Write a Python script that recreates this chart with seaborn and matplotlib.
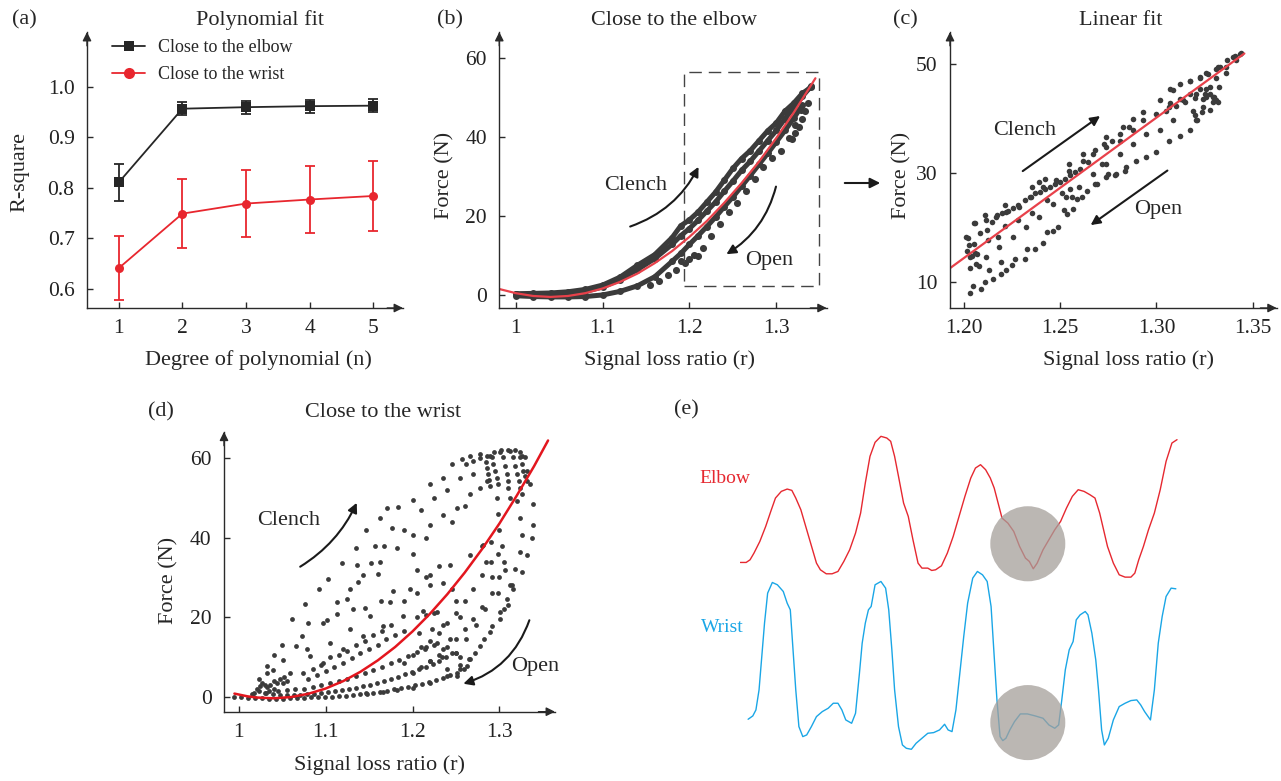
import numpy as np
import pandas as pd
import seaborn as sns
import matplotlib.pyplot as plt
from matplotlib.patches import Rectangle, Ellipse
from matplotlib.lines import Line2D

sns.set_style('ticks')
plt.rcParams['font.family'] = ['Liberation Serif', 'DejaVu Serif']

# ---------------- data ----------------
# (a) polynomial fit
degree = [1, 2, 3, 4, 5]
elbow_r2 = [0.811, 0.957, 0.960, 0.962, 0.963]
elbow_err = [0.036, 0.013, 0.013, 0.013, 0.013]
wrist_r2 = [0.641, 0.749, 0.769, 0.777, 0.784]
wrist_err = [0.063, 0.069, 0.066, 0.067, 0.069]

# (b) close to the elbow: dense bands
b_band_r = [1.00, 1.02, 1.04, 1.06, 1.08, 1.10, 1.12, 1.14, 1.16, 1.18, 1.19, 1.20, 1.21,
            1.22, 1.23, 1.24, 1.25, 1.26, 1.27, 1.28, 1.29, 1.30, 1.31, 1.32, 1.33, 1.34]
b_up1_f = [0.3, 0.4, 0.5, 0.8, 1.4, 2.5, 4.5, 7.5, 10.2, 14.5, 17.5, 19.0, 21.0,
           23.5, 26.0, 29.0, 32.0, 34.5, 36.5, 39.0, 41.5, 43.5, 46.5, 48.5, 51.0, 52.5]
b_up2_f = [0.2, 0.1, 0.0, 0.3, 0.9, 2.0, 3.9, 6.4, 9.2, 12.8, 15.0, 16.8, 18.9,
           21.2, 23.5, 26.2, 28.8, 31.5, 33.8, 36.4, 39.0, 41.6, 44.6, 47.3, 50.2, 52.8]
b_low_r = b_band_r[:-1]
b_low_f = [-0.2, -0.4, -0.5, -0.5, -0.4, 0.0, 0.9, 2.3, 4.6, 8.5, 10.5, 12.8, 15.0,
           17.3, 19.7, 22.3, 24.8, 27.5, 30.2, 33.0, 35.8, 38.7, 41.6, 44.7, 48.0]
b_open_r = [1.155, 1.165, 1.175, 1.185, 1.195, 1.205, 1.215, 1.225, 1.235, 1.245, 1.255,
            1.265, 1.275, 1.285, 1.295, 1.305, 1.315, 1.322, 1.328, 1.318, 1.322, 1.326,
            1.330, 1.333, 1.336, 1.190, 1.200, 1.210]
b_open_f = [2.5, 3.5, 5.0, 6.3, 8.0, 10.0, 12.0, 14.8, 18.0, 21.0, 23.2,
            26.2, 29.2, 32.4, 34.6, 36.3, 39.6, 43.0, 46.8, 39.5, 41.0, 42.5,
            44.5, 46.5, 48.5, 8.5, 9.2, 9.8]
b_fit_r = [0.981, 1.0, 1.02, 1.04, 1.06, 1.08, 1.10, 1.12, 1.14, 1.16, 1.18, 1.20,
           1.22, 1.24, 1.26, 1.28, 1.30, 1.32, 1.345]
b_fit_f = [1.5, 0.45, -0.26, -0.5, -0.26, 0.45, 1.64, 3.3, 5.4, 8.05, 11.1, 14.7,
           18.7, 23.3, 28.3, 33.7, 39.7, 46.1, 54.8]

# (c) linear fit (zoomed window)
c_r = [1.2031, 1.2048, 1.209, 1.211, 1.2153, 1.2192, 1.222, 1.2248, 1.2265, 1.2317, 1.2325,
       1.237, 1.241, 1.2429, 1.2464, 1.249, 1.2533, 1.2568, 1.2585, 1.2637, 1.269, 1.274,
       1.279, 1.2842, 1.2894, 1.2946, 1.2998, 1.3067, 1.312, 1.3172, 1.3206, 1.3241, 1.3293,
       1.3327, 1.3362, 1.3414, 1.344,
       1.2062, 1.2114, 1.2184, 1.2253, 1.2322, 1.2392, 1.2461, 1.2530, 1.2600, 1.2669, 1.2738,
       1.2808, 1.2877, 1.2946, 1.3016, 1.3085, 1.3189, 1.3258,
       1.201, 1.2054, 1.2114, 1.2166, 1.2218, 1.2288, 1.2348, 1.2409, 1.2478, 1.2547, 1.2617,
       1.2669, 1.2738, 1.2808, 1.2877, 1.293, 1.2998, 1.3067, 1.3137, 1.3206, 1.3258, 1.331,
       1.336, 1.341,
       1.2392, 1.2547, 1.2738, 1.2825, 1.2877, 1.293, 1.3016, 1.3085, 1.3172, 1.3224, 1.3258,
       1.331,
       1.2015, 1.2032, 1.205, 1.2066, 1.2025, 1.208, 1.213, 1.219,
       1.305, 1.31, 1.315, 1.32, 1.325, 1.328, 1.33, 1.331, 1.332,
       1.2022, 1.2057, 1.2083, 1.2118, 1.2144, 1.2170, 1.2196, 1.2231, 1.2257, 1.2283, 1.2318,
       1.2344, 1.2370, 1.2395, 1.2421, 1.2447, 1.2473, 1.2499, 1.2525, 1.2551, 1.2577, 1.2603,
       1.2352, 1.2421, 1.2213, 1.2109, 1.2127, 1.2179, 1.2057, 1.2040, 1.2031, 1.2213, 1.2283,
       1.2352, 1.2430, 1.2508, 1.2551, 1.2620, 1.2681, 1.2725, 1.2768, 1.2811, 1.2855, 1.2646,
       1.2716, 1.2750, 1.2837, 1.2785, 1.2681, 1.2611, 1.2560, 1.2517,
       1.3070, 1.3123, 1.3175, 1.3227, 1.3279, 1.3244, 1.3296, 1.3279, 1.3235, 1.3209, 1.3201,
       1.3365, 1.3400, 1.3434, 1.3330,
       1.3070, 1.3123, 1.3175, 1.3227, 1.3270, 1.3322]
c_f = [8.0, 9.3, 8.7, 10.1, 10.7, 11.5, 12.2, 13.2, 14.3, 14.3, 16.1,
       16.1, 17.2, 19.2, 19.5, 20.1, 22.6, 23.5, 25.3, 26.8, 28.0, 29.3,
       29.9, 31.1, 32.3, 33.0, 33.9, 36.0, 36.9, 37.9, 39.7, 42.2, 44.0,
       45.9, 48.3, 50.8, 52.0,
       13.4, 14.6, 16.5, 18.3, 20.1, 22.0, 24.4, 25.6, 27.5, 29.9, 31.7,
       33.6, 35.4, 37.2, 37.9, 39.7, 41.5, 44.0,
       18.3, 20.8, 21.4, 22.0, 22.9, 23.8, 25.6, 27.5, 28.7, 30.5, 32.3,
       33.6, 34.8, 36.0, 37.9, 39.7, 40.9, 42.2, 43.4, 44.6, 45.5, 47.5,
       49.5, 51.5,
       28.4, 31.7, 36.6, 38.5, 40.0, 41.2, 43.4, 45.2, 47.0, 47.5, 48.3,
       49.2,
       15.8, 14.6, 17.0, 15.2, 16.8, 13.0, 12.3, 13.8,
       41.5, 42.3, 43.0, 43.8, 44.5, 44.5, 44.0, 43.5, 43.0,
       18.1, 20.8, 19.0, 19.6, 21.1, 22.4, 22.7, 23.0, 23.6, 24.2, 25.1,
       25.7, 26.3, 26.6, 27.2, 27.5, 28.1, 28.4, 29.0, 29.6, 30.2, 30.8,
       27.5, 29.0, 24.2, 22.4, 17.8, 18.4, 15.4, 14.8, 12.7, 20.3, 21.5,
       22.7, 25.1, 26.3, 27.2, 33.6, 34.2, 35.4, 36.0, 37.2, 38.5, 32.1,
       31.7, 29.9, 30.5, 29.6, 28.1, 25.7, 25.7, 23.3,
       42.8, 43.7, 44.6, 45.5, 45.9, 43.7, 43.1, 41.6, 41.3, 39.7, 40.6,
       50.7, 51.3, 51.9, 49.5,
       45.5, 46.4, 47.0, 47.6, 48.2, 49.5]
c_fit_r = [1.1927, 1.3457]
c_fit_f = [12.6, 51.96]

# (d) close to the wrist
d_outer_r = [1.0237, 1.0322, 1.0406, 1.0495, 1.0618, 1.0763, 1.0924, 1.1032, 1.1185, 1.1350,
             1.1461, 1.1626, 1.1711, 1.1837, 1.2010, 1.2202, 1.2356, 1.2452, 1.2567, 1.2663,
             1.2778, 1.2893, 1.3008, 1.3123, 1.3238, 1.3296, 1.3315, 1.3353, 1.3392, 1.3392,
             1.3372, 1.3315, 1.3257, 1.3161, 1.3104, 1.3008, 1.2893, 1.2778, 1.2663, 1.2548,
             1.2394, 1.2202, 1.2010, 1.1818, 1.1665, 1.1473,
             1.262, 1.270, 1.278, 1.286, 1.294, 1.302, 1.310, 1.318, 1.326]
d_outer_f = [4.6, 7.9, 10.5, 13.2, 19.6, 23.4, 27.0, 29.6, 33.7, 37.5,
             41.8, 44.9, 47.4, 47.6, 49.5, 53.3, 55.0, 58.4, 59.6, 60.5,
             60.9, 60.5, 61.3, 61.6, 61.3, 60.1, 56.7, 53.3, 48.3, 43.2,
             39.8, 35.6, 31.4, 27.2, 23.0, 19.6, 16.3, 12.9, 9.5, 7.0,
             5.3, 3.6, 2.4, 1.9, 1.4, 0.8,
             58.5, 59.2, 59.8, 60.3, 61.5, 62.0, 62.0, 61.8, 60.5]
d_curtain_r = [1.2913, 1.2930, 1.2951, 1.2970, 1.2989, 1.2970,
               1.3046, 1.3065, 1.3085, 1.3095, 1.3104, 1.3123,
               1.3161, 1.3180, 1.3200, 1.3220, 1.3238, 1.3257,
               1.3238, 1.3258, 1.3277, 1.3296, 1.3315,
               1.2850, 1.2860, 1.2870, 1.2880, 1.2890]
d_curtain_f = [60.1, 58.4, 56.7, 55.0, 53.3, 49.9,
               60.1, 58.0, 55.9, 54.2, 52.5, 49.9,
               60.1, 58.0, 55.9, 54.2, 52.5, 50.8,
               60.1, 58.4, 56.7, 55.4, 54.1,
               59.0, 57.5, 56.0, 54.5, 53.0]
d_inner_r = [1.3200, 1.3238, 1.3257, 1.3238, 1.3180, 1.3142, 1.3085, 1.3008, 1.2913, 1.2817,
             1.2721, 1.2625, 1.2510,
             1.298, 1.300, 1.303, 1.305, 1.300, 1.292, 1.283, 1.273, 1.262, 1.250]
d_inner_f = [49.1, 45.0, 40.6, 36.4, 32.2, 28.0, 24.6, 21.3, 17.9, 14.6,
             11.2, 7.8, 5.3,
             46.0, 42.0, 38.0, 34.0, 30.0, 26.0, 22.0, 18.0, 14.5, 11.0]
d_mid_r = [1.0783, 1.0974, 1.1127, 1.1281, 1.1434, 1.1626, 1.1818, 1.2010, 1.2202, 1.2356,
           1.2509, 1.2663, 1.2778, 1.2854,
           1.0590, 1.0820, 1.1050, 1.1281, 1.1511, 1.1741, 1.1971, 1.2202, 1.2432, 1.2663,
           1.2816,
           1.0513, 1.0743, 1.0974, 1.1204, 1.1434, 1.1665, 1.1895, 1.2125, 1.2279,
           1.215, 1.222, 1.228, 1.234, 1.240, 1.225, 1.235, 1.243, 1.250, 1.255,
           1.205, 1.208, 1.214, 1.220,
           1.280, 1.285, 1.292, 1.298, 1.305, 1.290, 1.298, 1.306, 1.312,
           1.190, 1.205, 1.220, 1.235, 1.245, 1.250, 1.255]
d_mid_f = [12.0, 18.7, 23.8, 27.2, 30.5, 33.9, 37.3, 40.7, 43.2, 45.7,
           47.4, 50.8, 52.5, 54.2,
           6.1, 10.3, 13.7, 17.0, 20.4, 23.8, 27.2, 30.5, 33.1, 35.6,
           38.1,
           3.5, 6.1, 8.6, 12.0, 15.4, 17.9, 20.4, 21.7, 21.3,
           20.5, 17.0, 13.5, 10.0, 7.0, 21.0, 18.0, 14.5, 11.0, 8.0,
           20.0, 16.0, 12.0, 9.0,
           38.0, 34.0, 30.0, 26.0, 22.0, 39.0, 36.0, 32.0, 28.0,
           24.0, 26.0, 28.0, 28.5, 27.0, 24.0, 20.0]
d_sparse_r = [1.0322, 1.0399, 1.0514, 1.0660, 1.0725, 1.0802, 1.102, 1.1127, 1.1243, 1.1311,
              1.1357, 1.1369, 1.1453, 1.1519, 1.1569, 1.1604, 1.1642, 1.1676, 1.1761, 1.1776,
              1.190, 1.200, 1.210, 1.215, 1.225, 1.230, 1.240, 1.245, 1.255, 1.260, 1.270,
              1.215, 1.205]
d_sparse_f = [6.0, 6.9, 9.4, 12.8, 15.4, 18.7, 19.3, 20.8, 24.6, 22.0,
              33.1, 28.8, 22.4, 33.7, 37.9, 30.9, 24.1, 37.9, 42.4, 26.7,
              42.0, 36.0, 47.0, 40.0, 50.0, 33.0, 52.0, 44.0, 55.0, 48.0, 56.0,
              30.0, 32.0]
d_base_r = [0.995, 1.003, 1.011, 1.019, 1.027, 1.035, 1.043, 1.051, 1.059, 1.067, 1.075,
            1.083, 1.091, 1.099, 1.107, 1.115, 1.123, 1.131, 1.139, 1.147, 1.155, 1.163,
            1.171, 1.179, 1.187, 1.195, 1.203, 1.211, 1.219, 1.227, 1.235, 1.243, 1.251,
            1.259,
            1.015, 1.023, 1.031, 1.039, 1.047, 1.055, 1.063, 1.071, 1.079, 1.087, 1.095,
            1.103, 1.111, 1.119, 1.127, 1.135, 1.143, 1.151, 1.159, 1.167, 1.175, 1.183,
            1.191, 1.199, 1.207, 1.215, 1.223, 1.231, 1.239,
            1.045, 1.055, 1.065, 1.075, 1.085, 1.095, 1.105, 1.115, 1.125, 1.135, 1.145,
            1.155, 1.165, 1.175, 1.185, 1.195, 1.205, 1.215, 1.225, 1.235, 1.245, 1.255,
            1.265,
            1.018, 1.021, 1.024, 1.027, 1.030, 1.033, 1.036, 1.040, 1.044, 1.048, 1.052,
            1.056, 1.030, 1.035, 1.040,
            1.08, 1.09, 1.10, 1.11, 1.12, 1.13, 1.14, 1.15, 1.16, 1.17, 1.18, 1.19,
            1.085, 1.095, 1.105, 1.115, 1.125, 1.135, 1.145, 1.155, 1.165, 1.175,
            1.20, 1.21, 1.22, 1.23, 1.24, 1.25, 1.26, 1.27, 1.28,
            1.19, 1.20, 1.21, 1.22, 1.23, 1.24, 1.25, 1.26, 1.27, 1.28, 1.29]
d_base_f = [0.2, 0.0, -0.1, -0.2, -0.2, -0.3, -0.3, -0.3, -0.2, -0.2, -0.1,
            0.0, 0.0, 0.1, 0.2, 0.3, 0.4, 0.6, 0.8, 1.0, 1.2, 1.4,
            1.7, 2.0, 2.3, 2.6, 3.0, 3.4, 3.8, 4.3, 4.9, 5.5, 6.2,
            7.0,
            0.8, 1.6, 1.2, 0.9, 0.7, 0.6, 0.6, 0.7, 0.8, 0.9, 1.1,
            1.3, 1.5, 1.8, 2.1, 2.4, 2.8, 3.2, 3.6, 4.1, 4.6, 5.2,
            5.8, 6.4, 7.0, 7.7, 8.4, 9.2, 10.0,
            1.5, 1.8, 2.2, 2.0, 2.6, 3.0, 3.5, 4.0, 4.7, 5.4, 6.0,
            6.8, 7.6, 8.5, 9.4, 10.4, 11.4, 12.5, 13.0, 12.0, 11.0, 10.2,
            9.5,
            1.0, 2.0, 2.8, 3.5, 3.0, 2.5, 3.2, 4.0, 3.5, 4.5, 5.0,
            4.2, 1.0, 1.5, 2.0,
            4.5, 5.5, 6.5, 7.5, 8.5, 9.8, 11.0, 12.0, 13.2, 14.5, 15.5, 16.5,
            7.0, 8.0, 10.0, 10.5, 11.5, 13.0, 14.0, 15.5, 16.5, 18.0,
            6.0, 7.5, 9.0, 10.5, 12.5, 14.5, 17.0, 19.5, 22.5,
            8.5, 10.5, 12.5, 14.0, 16.0, 18.5, 21.0, 24.0, 27.0, 30.5, 34.0]
d_fit_r = [0.995, 1.01, 1.02, 1.04, 1.06, 1.08, 1.10, 1.12, 1.14, 1.16, 1.18, 1.20,
           1.22, 1.24, 1.26, 1.28, 1.30, 1.32, 1.34, 1.356]
d_fit_f = [0.93, 0.25, -0.04, -0.25, 0.06, 0.88, 2.2, 4.04, 6.39, 9.25, 12.6, 16.5,
           20.9, 25.8, 31.2, 37.1, 43.5, 50.5, 57.9, 64.3]

# (e) raw signals (sample index, arbitrary amplitude)
elbow_t = [0, 15, 25, 35, 50, 65, 78, 90, 105, 120, 132, 142, 155, 165, 175, 185, 195, 205,
           220, 235, 250, 265, 280, 295, 308, 320, 332, 345, 360, 375, 385, 395, 405, 418,
           430, 442, 455, 465, 480, 490, 500, 515, 530, 545, 560, 575, 590, 602, 615, 628,
           640, 650, 660, 670, 685, 700, 715, 730, 740, 750, 760, 775, 790, 805, 820, 835,
           850, 865, 880, 895, 908, 920, 930, 940, 955, 970, 985, 1000, 1010, 1020, 1032,
           1045, 1060, 1075, 1090, 1105, 1118]
elbow_v = [562, 562, 570, 590, 625, 670, 715, 755, 775, 782, 778, 755, 720, 680, 640, 600,
           560, 540, 528, 528, 535, 565, 600, 650, 710, 800, 880, 922, 940, 935, 925, 880,
           820, 740, 700, 630, 560, 545, 545, 538, 540, 552, 590, 640, 700, 760, 815, 845,
           855, 840, 815, 785, 740, 695, 680, 655, 610, 575, 565, 543, 560, 600, 630, 660,
           685, 725, 760, 780, 775, 765, 755, 710, 660, 610, 560, 525, 518, 518, 530, 570,
           610, 660, 710, 780, 865, 920, 930]
wrist_t = [20, 32, 40, 48, 55, 62, 70, 82, 95, 110, 120, 128, 135, 142, 150, 160, 170, 182,
           195, 210, 225, 238, 250, 260, 270, 285, 295, 305, 312, 320, 328, 335, 345, 360,
           372, 380, 388, 395, 405, 415, 425, 438, 450, 465, 480, 495, 510, 523, 532, 542,
           552, 562, 572, 582, 595, 607, 620, 632, 642, 650, 657, 665, 672, 680, 690, 702,
           717, 735, 755, 775, 790, 805, 815, 823, 832, 842, 852, 860, 870, 883, 890, 900,
           910, 917, 925, 932, 942, 955, 970, 985, 1000, 1015, 1025, 1035, 1050, 1060,
           1070, 1080, 1090, 1103, 1115]
wrist_v = [92, 102, 120, 180, 280, 380, 470, 502, 495, 475, 440, 420, 300, 180, 70, 40, 45,
           70, 100, 115, 125, 140, 140, 120, 90, 80, 110, 230, 320, 380, 420, 430, 495, 505,
           485, 420, 300, 180, 70, 15, 5, 2, 20, 35, 50, 52, 60, 77, 60, 55, 120, 230, 340,
           440, 515, 535, 525, 505, 430, 280, 150, 40, 28, 35, 60, 85, 108, 108, 102, 95, 75,
           65, 75, 150, 240, 300, 325, 390, 405, 415, 405, 350, 270, 180, 60, 15, 35, 90,
           130, 140, 148, 150, 135, 115, 90, 180, 320, 400, 460, 485, 483]
circle_t = 736
circle_v = [618, 82]

# ---------------- figure ----------------
W, H = 1281, 781
fig = plt.figure(figsize=(W / 100, H / 100), dpi=100)

GRAY = '#3b3b3b'
AXC = '#2a2a2a'
RED = '#e8262e'
FIT = '#e8414a'


def box(l, t, r, b):
    return [l / W, 1 - b / H, (r - l) / W, (b - t) / H]


def style(ax):
    sns.despine(ax=ax)
    for s in ['left', 'bottom']:
        ax.spines[s].set_color(AXC)
        ax.spines[s].set_linewidth(1.0)
    ax.tick_params(direction='in', length=4, width=1, colors=AXC,
                   labelcolor='#222222', labelsize=15.5)
    ax.tick_params(axis='y', pad=9)
    ax.tick_params(axis='x', pad=8)
    ap = dict(arrowstyle='-|>', color=AXC, lw=1, mutation_scale=13,
              shrinkA=0, shrinkB=0)
    ax.annotate('', xy=(1.0, 0), xytext=(0.95, 0), xycoords='axes fraction', arrowprops=ap)
    ax.annotate('', xy=(0, 1.0), xytext=(0, 0.95), xycoords='axes fraction', arrowprops=ap)


def labels(ax, xl, yl, xy_x, xy_y, title, tpos):
    ax.set_xlabel(xl, fontsize=16)
    ax.set_ylabel(yl, fontsize=16)
    ax.xaxis.set_label_coords(*xy_x)
    ax.yaxis.set_label_coords(*xy_y)
    ax.xaxis.label.set_va('center')
    ax.yaxis.label.set_va('center')
    ax.set_title(title, fontsize=16, x=tpos[0], y=tpos[1], va='center', pad=0)


# (a)
ax = fig.add_axes(box(87, 32, 403, 308))
df_a = pd.DataFrame({'n': degree * 2, 'r2': elbow_r2 + wrist_r2,
                     'g': ['Close to the elbow'] * 5 + ['Close to the wrist'] * 5})
sns.lineplot(data=df_a, x='n', y='r2', hue='g', style='g', markers=['s', 'o'],
             dashes=False, palette=['#262626', RED], markersize=6.5, lw=1.3,
             markeredgewidth=0, legend=False, ax=ax)
ax.errorbar(degree, elbow_r2, yerr=elbow_err, fmt='none', ecolor='#262626',
            elinewidth=1.3, capsize=3.5, capthick=1.3)
ax.errorbar(degree, wrist_r2, yerr=wrist_err, fmt='none', ecolor=RED,
            elinewidth=1.3, capsize=3.5, capthick=1.3)
ax.set_xlim(0.5, 5.47)
ax.set_ylim(0.562, 1.109)
ax.set_xticks(degree)
ax.set_yticks([0.6, 0.7, 0.8, 0.9, 1.0])
ax.set_yticklabels(['0.6', '0.7', '0.8', '0.9', '1.0'])
style(ax)
labels(ax, 'Degree of polynomial (n)', 'R-square', (0.541, -0.188), (-0.212, 0.493),
       'Polynomial fit', (0.547, 1.043))
handles = [Line2D([], [], color='#262626', marker='s', ms=7, lw=1.3, mew=0),
           Line2D([], [], color=RED, marker='o', ms=8, lw=1.3, mew=0)]
ax.legend(handles, ['Close to the elbow', 'Close to the wrist'], loc='upper left',
          bbox_to_anchor=(0.08, 0.975), frameon=False, fontsize=13, handlelength=1.8,
          handletextpad=0.75, labelspacing=0.55, borderpad=0, borderaxespad=0)

# (b)
ax = fig.add_axes(box(499.3, 32, 826.7, 308))
for f in [b_up1_f, b_up2_f]:
    sns.lineplot(x=b_band_r, y=f, sort=False, estimator=None, color=GRAY, lw=3.6,
                 marker='o', markersize=5, markeredgewidth=0, ax=ax)
sns.lineplot(x=b_low_r, y=b_low_f, sort=False, estimator=None, color=GRAY, lw=3.6,
             marker='o', markersize=5, markeredgewidth=0, ax=ax)
sns.scatterplot(x=b_open_r, y=b_open_f, color=GRAY, s=26, linewidth=0, ax=ax)
sns.lineplot(x=b_fit_r, y=b_fit_f, sort=False, estimator=None, color=FIT, lw=1.6, ax=ax)
ax.add_patch(Rectangle((1.194, 2.35), 1.3495 - 1.194, 56.5 - 2.35, fill=False,
                       ec='#444444', lw=1.0, ls=(0, (9, 5))))
ax.set_xlim(0.981, 1.358)
ax.set_ylim(-3.3, 66.5)
ax.set_xticks([1.0, 1.1, 1.2, 1.3])
ax.set_xticklabels(['1', '1.1', '1.2', '1.3'])
ax.set_yticks([0, 20, 40, 60])
style(ax)
labels(ax, 'Signal loss ratio (r)', 'Force (N)', (0.521, -0.188), (-0.166, 0.482),
       'Close to the elbow', (0.534, 1.043))
arr = dict(arrowstyle='-|>', color='#1a1a1a', lw=1.5, mutation_scale=14,
           shrinkA=0, shrinkB=0)
ax.text(1.1375, 27.8, 'Clench', fontsize=16, ha='center', va='center')
ax.annotate('', xy=(1.2104, 32.4), xytext=(1.1317, 17.3),
            arrowprops=dict(arr, connectionstyle='arc3,rad=0.2'))
ax.text(1.292, 8.8, 'Open', fontsize=16, ha='center', va='center')
ax.annotate('', xy=(1.2425, 10.3), xytext=(1.2996, 27.4),
            arrowprops=dict(arr, connectionstyle='arc3,rad=-0.2'))

# (c)
ax = fig.add_axes(box(950, 32, 1276.7, 308))
sns.scatterplot(x=c_r, y=c_f, color=GRAY, s=16, linewidth=0, ax=ax)
sns.lineplot(x=c_fit_r, y=c_fit_f, color=FIT, lw=1.6, ax=ax)
ax.set_xlim(1.1927, 1.3625)
ax.set_ylim(5.3, 55.9)
ax.set_xticks([1.20, 1.25, 1.30, 1.35])
ax.set_xticklabels(['1.20', '1.25', '1.30', '1.35'])
ax.set_yticks([10, 30, 50])
style(ax)
labels(ax, 'Signal loss ratio (r)', 'Force (N)', (0.545, -0.188), (-0.148, 0.482),
       'Linear fit', (0.523, 1.043))
ax.text(1.2317, 37.9, 'Clench', fontsize=16, ha='center', va='center')
ax.annotate('', xy=(1.2707, 40.5), xytext=(1.2305, 30.4), arrowprops=arr)
ax.text(1.301, 23.4, 'Open', fontsize=16, ha='center', va='center')
ax.annotate('', xy=(1.2658, 20.5), xytext=(1.3057, 30.5), arrowprops=arr)

# (d)
ax = fig.add_axes(box(224, 431.7, 555, 711.7))
for rr, ff in [(d_outer_r, d_outer_f), (d_curtain_r, d_curtain_f), (d_inner_r, d_inner_f),
               (d_mid_r, d_mid_f), (d_sparse_r, d_sparse_f), (d_base_r, d_base_f)]:
    sns.scatterplot(x=rr, y=ff, color=GRAY, s=12, linewidth=0, ax=ax)
sns.lineplot(x=d_fit_r, y=d_fit_f, sort=False, estimator=None, color='#e3161e', lw=1.8,
             ax=ax)
ax.set_xlim(0.983, 1.364)
ax.set_ylim(-3.6, 66.5)
ax.set_xticks([1.0, 1.1, 1.2, 1.3])
ax.set_xticklabels(['1', '1.1', '1.2', '1.3'])
ax.set_yticks([0, 20, 40, 60])
style(ax)
labels(ax, 'Signal loss ratio (r)', 'Force (N)', (0.471, -0.190), (-0.166, 0.470),
       'Close to the wrist', (0.480, 1.070))
ax.text(1.0571, 44.2, 'Clench', fontsize=16, ha='center', va='center')
ax.annotate('', xy=(1.1358, 48.7), xytext=(1.0707, 32.7),
            arrowprops=dict(arr, connectionstyle='arc3,rad=0.15'))
ax.text(1.341, 7.7, 'Open', fontsize=16, ha='center', va='center')
ax.annotate('', xy=(1.2585, 3.4), xytext=(1.3345, 19.3),
            arrowprops=dict(arr, connectionstyle='arc3,rad=-0.25'))

# (e)
ax = fig.add_axes(box(740.3, 433, 1177.8, 763.3))
sns.lineplot(x=elbow_t, y=elbow_v, sort=False, estimator=None, color='#e62830', lw=1.0,
             ax=ax)
sns.lineplot(x=wrist_t, y=wrist_v, sort=False, estimator=None, color='#1aa6e6', lw=1.0,
             ax=ax)
for cv in circle_v:
    ax.add_patch(Ellipse((circle_t, cv), 192, 225, fc='#a59f9a', ec='none', alpha=0.75,
                         zorder=5))
ax.set_xlim(0, 1120)
ax.set_ylim(-40, 950)
ax.axis('off')
ax.text(-105, 815, 'Elbow', color='#e62830', fontsize=14, ha='left', va='center')
ax.text(-100, 368, 'Wrist', color='#1aa6e6', fontsize=14, ha='left', va='center')

# arrow between (b) and (c), panel letters
fig.patches.append(plt.matplotlib.patches.FancyArrowPatch(
    (842 / W, 1 - 183 / H), (883 / W, 1 - 183 / H), transform=fig.transFigure,
    arrowstyle='-|>', mutation_scale=15, lw=1.5, color='#1a1a1a'))
for lab, x, y in [('(a)', 12, 20), ('(b)', 437, 20), ('(c)', 893, 20),
                  ('(d)', 148, 412), ('(e)', 674, 410)]:
    fig.text(x / W, 1 - y / H, lab, fontsize=16, ha='left', va='center')

fig.savefig('out.png', dpi=100)
